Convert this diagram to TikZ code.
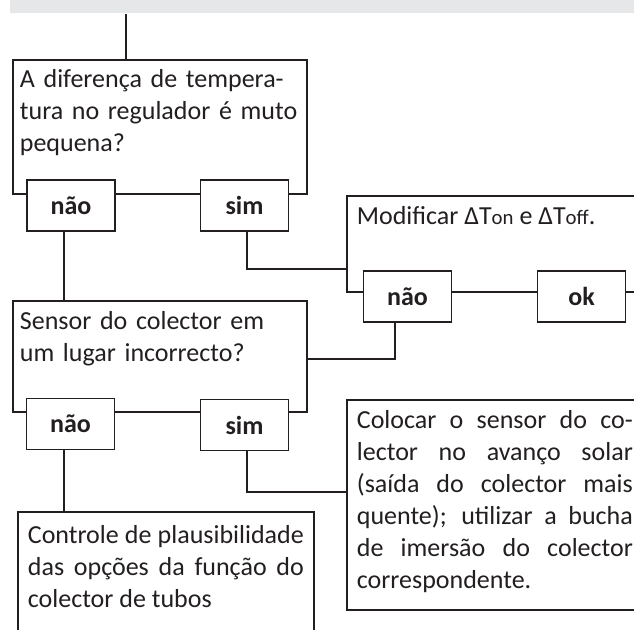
\documentclass[tikz,border=0pt]{standalone}
\usepackage{fontspec}
\setmainfont{Carlito}
\usepackage{tikz}
\definecolor{inkdark}{RGB}{35,31,32}
\definecolor{bandgray}{RGB}{230,231,232}
\hyphenpenalty=10000
\exhyphenpenalty=10000
\newcommand{\boxfont}{\fontsize{13pt}{16pt}\selectfont}
\newcommand{\smallfont}{\fontsize{10.4pt}{16pt}\selectfont}
\tikzset{
  qbox/.style={rectangle, draw=inkdark, fill=white, text=inkdark,
    anchor=north west, text width=140pt, inner xsep=3.5pt, inner ysep=0pt,
    align=left, text height=14pt, font=\boxfont, line width=0.9pt},
  abox/.style={rectangle, draw=inkdark, fill=white, text=inkdark,
    anchor=north west, text width=138pt, inner xsep=5pt, inner ysep=0pt,
    align=justify, text height=14.5pt, font=\boxfont, line width=0.9pt},
  ansbox/.style={rectangle, draw=inkdark, fill=white, text=inkdark,
    minimum width=44pt, minimum height=25.5pt, inner sep=0pt,
    font=\boxfont\bfseries, line width=0.9pt},
  link/.style={draw=inkdark, line width=0.9pt}
}
\begin{document}
\begin{tikzpicture}[x=0.5pt, y=-0.5pt]
  \path[use as bounding box, clip] (0,0) rectangle (634,630);
  % grey header band
  \node[fill=bandgray, anchor=north west, minimum width=315pt,
        minimum height=6.5pt, inner sep=0pt] (band) at (10,0) {};
  % first question with its answers
  \node[qbox, text depth=53pt] (q1) at (12,59)
    {A diferença de tempera-\\tura no regulador é muto\\pequena?};
  \node[ansbox] (q1n) at (71,205.5) {não};
  \node[ansbox] (q1s) at (244.5,205.5) {sim};
  % second question with its answers
  \node[qbox, text height=14.5pt, text depth=41pt] (q2) at (12,300)
    {Sensor do colector em\\um lugar incorrecto?};
  \node[ansbox] (q2n) at (70.5,424) {não};
  \node[ansbox] (q2s) at (244.5,425) {sim};
  % actions
  \node[abox, text depth=33.5pt] (a1) at (346,195)
    {Modificar ΔT{\smallfont on} e ΔT{\smallfont off}.};
  \node[ansbox] (a1n) at (407.5,296.5) {não};
  \node[ansbox] (a1k) at (581.5,296.5) {ok};
  \node[abox, text depth=90.5pt] (a2) at (346,399)
    {Colocar o sensor do co-\linebreak lector no avanço solar\linebreak
     (saída do colector mais\linebreak quente); utilizar a bucha\linebreak
     de imersão do colector\linebreak correspondente.};
  \node[abox, text height=16pt, text depth=54pt] (a3) at (17,511)
    {Controle de plausibilidade\linebreak das opções da função do\linebreak
     colector de tubos};
  % connectors
  \draw[link] ([xshift=-17pt]q1.north) -- ([xshift=-17pt]q1.north |- band.south);
  \draw[link] ([xshift=-3.5pt]q1n.south) -- ([xshift=-3.5pt]q1n.south |- q2.north);
  \draw[link] ([xshift=1.25pt]q1s.south) |- ([yshift=-12.5pt]a1.west);
  \draw[link] ([xshift=-6.25pt]a1n.south) |- ([yshift=-1.25pt]q2.east);
  \draw[link] ([xshift=-3.25pt]q2n.south) -- ([xshift=-3.25pt]q2n.south |- a3.north);
  \draw[link] ([xshift=1.25pt]q2s.south) |- ([yshift=6.5pt]a2.west);
\end{tikzpicture}
\end{document}
